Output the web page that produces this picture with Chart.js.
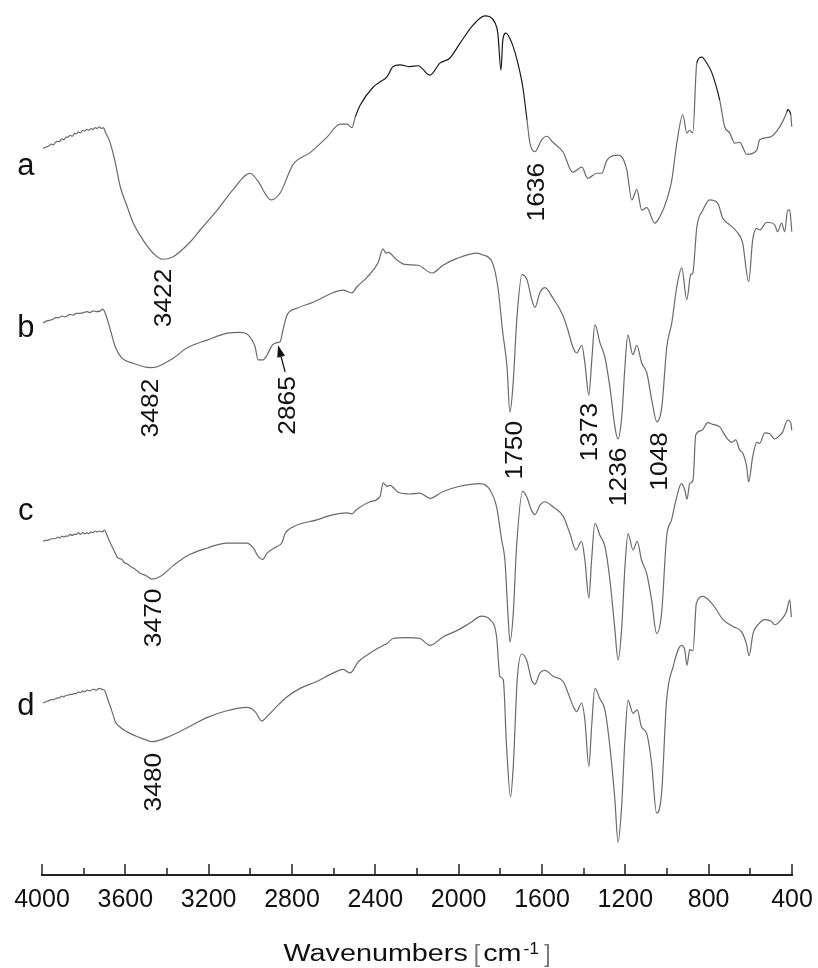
<!DOCTYPE html>
<html>
<head>
<meta charset="utf-8">
<script src="https://cdn.jsdelivr.net/npm/chart.js@4/dist/chart.umd.min.js"></script>
<style>
html,body{margin:0;padding:0;background:#fff;}
#wrap{width:818px;height:968px;}
</style>
</head>
<body>
<div id="wrap"><canvas id="c" width="818" height="968"></canvas></div>
<script>
// ---- Wavenumber axis ticks (cm^-1) ----
const tickMin = 400, tickMax = 4000, tickStep = 200, labelStep = 400;

// ---- Spectrum a ----
const waveA = [3995,3985,3975,3965,3955,3945,3935,3925,3915,3905,3895,3885,3875,3865,3855,3845,3835,3825,3815,3805,3795,3785,3775,3765,3755,3745,3735,3725,3715,3705,3696,
3672,3648,3624,3591,3562,3514,3466,3423,3370,3289,3241,3159,3083,3001,2967,2900,2857,2795,2713,2632,2569,2536,2512,2497,2473,2411,2378,2344,2315,2282,2234,2195,2138,2090,2042,1994,1932,1874,1850,1826,1812,1797,1788,1773,1744,1716,1692,1672,1658,1634,1601,1577,1548,1500,1452,1409,1380,1337,1313,1289,1236,1217,1193,1169,1145,1121,1097,1059,1035,1001,977,953,924,905,891,876,857,833,809,785,747,723,699,675,651,617,569,555,507,459,425,421,406,401];
const transA = [84.5,84.6,84.7,84.8,85.0,84.9,85.2,85.3,85.3,85.6,85.5,85.8,85.8,86.0,85.9,86.2,86.2,86.4,86.3,86.6,86.5,86.7,86.6,86.8,86.7,86.9,86.8,87.0,86.8,86.9,86.4,
85.1,82.8,80.0,77.7,75.8,73.8,72.3,71.6,71.9,73.6,75.0,77.3,79.7,81.6,80.8,78.5,79.3,82.6,84.0,85.8,87.3,87.3,86.9,88.1,89.5,91.6,92.2,92.8,94.0,94.2,94.0,94.1,93.0,94.4,95.0,96.7,98.8,99.9,99.8,99.1,97.9,93.6,97.1,97.9,96.7,94.4,91.6,87.8,85.1,84.1,85.5,85.9,85.2,84.1,81.7,82.3,81.0,81.6,81.6,83.1,83.7,83.5,82.0,78.5,79.7,77.3,77.6,75.8,76.5,78.5,80.8,85.1,88.4,86.3,86.6,86.3,94.4,95.1,94.4,93.3,90.1,87.0,86.3,85.1,85.2,83.8,84.3,85.5,85.8,87.0,88.7,89.0,88.4,87.0];

// ---- Spectrum b ----
const waveB = [3995,3980,3965,3950,3935,3920,3905,3890,3880,3865,3850,3835,3820,3800,3784,3770,3755,3740,3720,3708,
3696,3672,3648,3616,3562,3481,3447,3370,3303,3207,3111,3049,3011,2977,2963,2939,2919,2895,2872,2857,2843,2824,2776,2699,2603,2555,2512,2488,2440,2387,2363,2349,2339,2296,2258,2195,2128,2075,2008,1912,1884,1840,1812,1788,1768,1754,1740,1720,1696,1672,1649,1634,1610,1586,1548,1500,1476,1452,1433,1409,1394,1375,1361,1346,1322,1298,1274,1250,1236,1217,1202,1188,1164,1145,1121,1097,1073,1049,1025,1001,977,953,929,905,886,876,857,828,795,756,733,699,665,637,608,589,569,555,521,483,469,450,435,421,411,401];
const transB = [64.2,64.4,64.5,64.6,64.8,64.8,65.0,64.9,65.0,65.2,65.1,65.3,65.3,65.4,65.5,65.4,65.6,65.5,65.6,65.8,
65.3,63.4,61.4,60.1,59.5,59.0,59.1,60.1,61.3,62.2,63.0,63.1,62.8,61.4,59.9,59.9,60.5,61.6,61.9,62.0,63.4,65.1,65.9,66.6,67.7,68.0,67.7,68.4,69.5,71.2,72.8,72.3,72.4,71.5,71.0,70.9,70.0,70.9,71.7,72.3,72.1,71.3,68.4,63.0,59.1,53.8,56.7,64.9,69.8,69.2,66.9,66.0,67.7,68.3,67.1,65.1,63.4,61.4,60.7,61.6,59.5,55.8,59.9,64.0,61.9,60.2,56.7,52.1,50.7,53.3,59.1,62.8,60.5,61.6,59.5,58.4,55.2,52.7,54.4,61.4,64.2,68.4,70.6,66.9,69.8,70.0,75.3,77.3,78.5,78.1,76.4,75.6,74.8,73.5,69.0,73.8,75.2,75.0,75.9,75.6,74.8,75.8,74.8,77.3,77.3,74.8];

// ---- Spectrum c ----
const waveC = [3995,3985,3975,3965,3955,3945,3935,3925,3915,3905,3895,3885,3875,3865,3855,3845,3835,3825,3815,3805,3795,3785,3775,3765,3755,3745,3735,3725,3712,3700,
3688,3676,3664,3652,3640,3628,3616,3604,3592,3570,3550,3529,3500,3472,3433,3369,3305,3209,3113,3017,2985,2961,2940,2921,2873,2849,2833,2793,2681,2601,2537,2513,2489,2425,2378,2362,2345,2330,2290,2234,2186,2138,2074,1994,1898,1850,1818,1794,1778,1762,1754,1738,1722,1693,1674,1650,1634,1610,1586,1546,1498,1466,1437,1410,1394,1375,1362,1346,1322,1298,1274,1250,1235,1218,1202,1187,1163,1143,1122,1098,1074,1050,1026,1002,978,955,931,915,904,891,875,862,833,804,780,747,713,689,670,651,637,617,608,589,569,555,531,507,483,464,445,421,406,401];
const transC = [38.8,38.9,38.9,39.0,39.1,39.1,39.1,39.3,39.2,39.4,39.3,39.4,39.4,39.6,39.5,39.6,39.6,39.8,39.6,39.8,39.7,39.8,39.7,39.9,39.8,40.0,39.9,40.0,39.9,40.1,
39.5,38.8,38.2,37.6,37.0,36.8,36.7,36.3,36.2,35.8,35.5,35.1,34.8,34.4,34.7,36.0,37.1,38.0,38.6,38.6,38.0,37.0,36.7,37.4,38.2,38.6,39.7,40.5,41.3,41.9,42.1,42.0,42.5,43.4,44.0,45.6,45.2,45.3,44.5,44.3,44.4,43.8,44.6,45.2,45.5,44.8,42.8,39.0,36.6,29.7,27.1,30.4,38.2,44.6,44.0,42.4,41.9,43.0,43.4,42.8,41.7,39.7,37.8,38.8,36.6,32.2,36.6,40.9,39.5,38.2,34.3,28.5,25.0,28.5,35.8,39.7,37.8,38.8,36.6,35.1,32.0,28.1,30.4,39.3,41.3,43.8,45.5,44.8,43.7,45.5,45.9,51.2,51.7,52.6,52.4,52.1,50.8,50.3,50.6,49.4,49.1,47.4,45.7,48.6,50.3,50.2,51.4,51.3,50.7,51.0,51.5,52.9,52.6,51.7];

// ---- Spectrum d ----
const waveD = [3995,3985,3975,3965,3955,3945,3935,3925,3915,3905,3895,3885,3875,3865,3855,3845,3835,3825,3815,3805,3795,3784,3770,3755,3740,3725,3712,3698,
3684,3672,3660,3648,3630,3609,3580,3544,3510,3472,3400,3305,3209,3113,3017,2977,2945,2921,2873,2825,2761,2681,2601,2554,2521,2482,2425,2386,2362,2345,2314,2249,2186,2138,2074,2002,1946,1890,1850,1818,1802,1786,1770,1751,1738,1719,1698,1674,1650,1634,1610,1586,1546,1498,1474,1450,1434,1410,1394,1375,1362,1346,1322,1298,1274,1250,1235,1218,1202,1187,1163,1143,1122,1098,1074,1050,1026,1002,971,931,915,904,891,875,859,827,779,731,683,643,619,606,587,563,531,499,483,451,427,411,403];
const transD = [20.0,20.1,20.2,20.3,20.4,20.4,20.5,20.6,20.6,20.8,20.7,20.9,20.9,21.0,21.0,21.1,21.1,21.3,21.2,21.4,21.3,21.5,21.4,21.6,21.5,21.7,21.6,21.4,
20.4,19.6,18.7,17.8,17.3,16.9,16.5,16.1,15.8,15.5,16.0,17.1,18.3,19.1,19.5,19.0,17.9,18.4,19.6,20.7,21.7,22.5,23.5,23.9,23.5,24.8,25.8,26.4,26.7,26.9,27.5,27.6,27.5,26.7,27.7,28.5,29.3,30.1,29.7,27.7,23.1,22.7,14.9,9.1,12.6,22.7,25.7,25.0,22.7,22.2,23.5,23.8,23.1,22.5,21.1,19.6,19.0,20.0,18.0,12.6,17.2,21.7,20.5,19.2,14.9,8.7,3.8,7.9,15.7,20.3,18.8,19.2,17.2,16.5,13.0,7.2,9.5,20.3,24.2,26.7,26.2,24.4,26.2,26.1,31.6,32.4,31.4,29.7,28.9,28.3,26.9,25.5,28.1,29.1,29.7,29.5,29.1,29.7,30.6,32.0,30.0];

// ---- Curve letters ----
const curveNames = ['a','b','c','d'];
const curveLabelWave = 4078;
const curveLabelBase = [81.4, 62.6, 41.3, 18.6];

// ---- Peak annotations (text, wavenumber of label centre, level of label centre) ----
const peakText = ['3422','1636','3482','2865','1750','1373','1236','1048','3470','3480'];
const peakWave = [3423,1634,3485,2827,1739,1375,1237,1040,3469,3469];
const peakVal  = [67.1,79.4,54.3,54.6,49.4,51.5,46.3,48.1,29.9,10.8];
// arrow for 2865 (tail -> head), in wavenumber / level
const arrowWave = [2833, 2867];
const arrowVal  = [58.5, 61.6];

[[waveA,transA],[waveB,transB],[waveC,transC],[waveD,transD]].forEach((p,i)=>{
  if (p[0].length !== p[1].length) throw new Error('length mismatch in series ' + i + ': ' + p[0].length + ' vs ' + p[1].length);
});

const toXY = (w, t) => w.map((v, i) => ({x: v, y: t[i]}));
const FONT = '"Liberation Sans", Arial, Helvetica, sans-serif';
const GREY = '#6a6a6a';

function stretchedText(ctx, text, x, y, sx, align) {
  ctx.save();
  ctx.translate(x, y);
  ctx.scale(sx, 1);
  ctx.textAlign = align || 'left';
  ctx.fillText(text, 0, 0);
  ctx.restore();
}

const decor = {
  id: 'decor',
  afterDraw(chart) {
    const {ctx, chartArea: ca, scales: {x, y}} = chart;
    ctx.save();
    // inward tick marks
    ctx.strokeStyle = '#222';
    ctx.lineWidth = 1.5;
    x.ticks.forEach(t => {
      const px = Math.round(x.getPixelForValue(t.value));
      const len = (t.value % labelStep === 0) ? 11 : 7;
      ctx.beginPath();
      ctx.moveTo(px, ca.bottom);
      ctx.lineTo(px, ca.bottom - len);
      ctx.stroke();
    });

    // curve letters
    ctx.fillStyle = '#111';
    ctx.font = '31px ' + FONT;
    ctx.textAlign = 'center';
    ctx.textBaseline = 'alphabetic';
    curveNames.forEach((n, i) => {
      ctx.fillText(n, x.getPixelForValue(curveLabelWave), y.getPixelForValue(curveLabelBase[i]));
    });

    // peak labels (rotated)
    const fs = 24, sx = 1.1;
    ctx.font = fs + 'px ' + FONT;
    peakText.forEach((t, i) => {
      const cx = x.getPixelForValue(peakWave[i]);
      const cy = y.getPixelForValue(peakVal[i]);
      ctx.save();
      ctx.translate(cx + 0.358 * fs, cy);
      ctx.rotate(-Math.PI / 2);
      ctx.scale(sx, 1);
      ctx.textAlign = 'center';
      ctx.textBaseline = 'alphabetic';
      ctx.fillText(t, 0, 0);
      ctx.restore();
    });

    // arrow
    const x0 = x.getPixelForValue(arrowWave[0]), y0 = y.getPixelForValue(arrowVal[0]);
    const x1 = x.getPixelForValue(arrowWave[1]), y1 = y.getPixelForValue(arrowVal[1]);
    const ang = Math.atan2(y1 - y0, x1 - x0);
    const hl = 12, hw = 4;
    ctx.strokeStyle = '#111';
    ctx.lineWidth = 1.3;
    ctx.beginPath();
    ctx.moveTo(x0, y0);
    ctx.lineTo(x1 - hl * Math.cos(ang), y1 - hl * Math.sin(ang));
    ctx.stroke();
    ctx.fillStyle = '#111';
    ctx.beginPath();
    ctx.moveTo(x1, y1);
    ctx.lineTo(x1 - hl * Math.cos(ang) + hw * Math.sin(ang), y1 - hl * Math.sin(ang) - hw * Math.cos(ang));
    ctx.lineTo(x1 - hl * Math.cos(ang) - hw * Math.sin(ang), y1 - hl * Math.sin(ang) + hw * Math.cos(ang));
    ctx.closePath();
    ctx.fill();

    // axis title: Wavenumbers [cm-1]
    const base = ca.bottom + 86;
    const tsx = 1.25;
    ctx.textBaseline = 'alphabetic';
    ctx.font = '23px ' + FONT;
    const w1 = ctx.measureText('Wavenumbers').width * tsx;
    const wcm = ctx.measureText('cm').width * tsx;
    const wb = ctx.measureText('[').width;
    ctx.font = '16px ' + FONT;
    const wsup = ctx.measureText('-1').width * 1.1;
    const g1 = 6, g2 = 3, g3 = 2, g4 = 5;
    const total = w1 + g1 + wb + g2 + wcm + g3 + wsup + g4 + wb;
    let cx = (ca.left + ca.right) / 2 - total / 2;
    ctx.fillStyle = '#111';
    ctx.font = '23px ' + FONT;
    stretchedText(ctx, 'Wavenumbers', cx, base, tsx); cx += w1 + g1;
    ctx.fillStyle = '#777';
    stretchedText(ctx, '[', cx, base + 1, 1); cx += wb + g2;
    ctx.fillStyle = '#111';
    stretchedText(ctx, 'cm', cx, base, tsx); cx += wcm + g3;
    ctx.font = '16px ' + FONT;
    stretchedText(ctx, '-1', cx, base - 7, 1.1); cx += wsup + g4;
    ctx.fillStyle = '#777';
    ctx.font = '23px ' + FONT;
    stretchedText(ctx, ']', cx, base + 1, 1);
    ctx.restore();
  }
};

const mk = (label, w, t, extra) => Object.assign({
  label,
  data: toXY(w, t),
  borderColor: GREY,
  borderWidth: 1.2,
  pointRadius: 0,
  cubicInterpolationMode: 'monotone',
  fill: false,
  clip: false
}, extra || {});

new Chart(document.getElementById('c'), {
  type: 'line',
  data: {
    datasets: [
      mk('a', waveA, transA, {
        segment: {
          borderColor: c => (c.p0.parsed.y > 87.6 && c.p1.parsed.y > 87.6) ? '#1a1a1a' : GREY
        }
      }),
      mk('b', waveB, transB),
      mk('c', waveC, transC),
      mk('d', waveD, transD)
    ]
  },
  options: {
    responsive: false,
    devicePixelRatio: 1,
    animation: false,
    events: [],
    layout: {padding: {left: 42, right: 26, top: 15, bottom: 0}},
    plugins: {legend: {display: false}, tooltip: {enabled: false}, title: {display: false}},
    scales: {
      x: {
        type: 'linear',
        reverse: true,
        min: tickMin,
        max: tickMax,
        afterFit(s) { s.height = 93; s.paddingLeft = 0; s.paddingRight = 0; },
        grid: {display: false},
        border: {display: true, color: '#222', width: 2},
        ticks: {
          stepSize: tickStep,
          autoSkip: false,
          maxRotation: 0,
          minRotation: 0,
          padding: 2,
          color: '#111',
          font: {family: FONT, size: 25},
          callback: v => (v % labelStep === 0 ? String(v) : '')
        }
      },
      y: {
        type: 'linear',
        display: false,
        min: 0,
        max: 100
      }
    }
  },
  plugins: [decor]
});
</script>
</body>
</html>
